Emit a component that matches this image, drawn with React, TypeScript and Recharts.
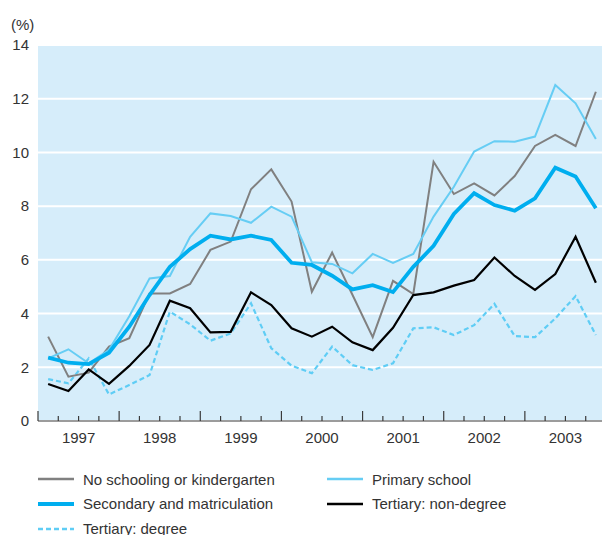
import { LineChart, Line, XAxis, YAxis, CartesianGrid } from "recharts";

const years = [1997, 1998, 1999, 2000, 2001, 2002, 2003];
const quarters = ["Q1", "Q2", "Q3", "Q4"];

// unemployment rate by education (%), quarterly 1997 Q1 - 2003 Q4
const noSchooling = [3.14, 1.65, 1.8, 2.77, 3.08, 4.75, 4.75, 5.1, 6.37, 6.68, 8.63, 9.37, 8.17, 4.81, 6.27, 4.7, 3.12, 5.22, 4.73, 9.65, 8.45, 8.85, 8.4, 9.12, 10.24, 10.65, 10.24, 12.26];
const primary = [2.33, 2.67, 2.15, 2.65, 3.9, 5.31, 5.4, 6.86, 7.73, 7.63, 7.38, 7.98, 7.61, 5.91, 5.85, 5.5, 6.22, 5.89, 6.22, 7.61, 8.72, 10.03, 10.42, 10.4, 10.59, 12.51, 11.83, 10.5];
const secondary = [2.36, 2.17, 2.12, 2.54, 3.51, 4.69, 5.74, 6.4, 6.9, 6.76, 6.9, 6.74, 5.89, 5.81, 5.41, 4.9, 5.06, 4.8, 5.74, 6.52, 7.71, 8.48, 8.04, 7.83, 8.29, 9.43, 9.1, 7.92];
const nonDegree = [1.38, 1.12, 1.92, 1.38, 2.05, 2.83, 4.48, 4.2, 3.3, 3.32, 4.79, 4.32, 3.45, 3.14, 3.51, 2.93, 2.64, 3.47, 4.69, 4.79, 5.04, 5.25, 6.09, 5.4, 4.88, 5.47, 6.86, 5.15];
const degree = [1.56, 1.4, 2.33, 0.99, 1.34, 1.71, 4.07, 3.6, 2.99, 3.26, 4.38, 2.71, 2.06, 1.78, 2.77, 2.08, 1.9, 2.15, 3.45, 3.49, 3.2, 3.57, 4.36, 3.16, 3.12, 3.82, 4.65, 3.2];

const yTicks = [0, 2, 4, 6, 8, 10, 12, 14];

// each quarter sits in the middle of its slot on a year scale
const periods = years.flatMap((y) =>
  quarters.map((q, i) => ({ label: `${y} ${q}`, t: y + (i + 0.5) / 4 }))
);
const xTicks = [
  ...years.flatMap((y) => quarters.map((_, i) => y + i / 4)),
  years[years.length - 1] + 1,
];

const data = periods.map((p, i) => ({
  ...p,
  noSchooling: noSchooling[i],
  primary: primary[i],
  secondary: secondary[i],
  nonDegree: nonDegree[i],
  degree: degree[i],
}));

const series = [
  { key: "degree", name: "Tertiary: degree", color: "#5fcdf5", width: 2.2, dash: "5 3" },
  { key: "noSchooling", name: "No schooling or kindergarten", color: "#808080", width: 2 },
  { key: "primary", name: "Primary school", color: "#66cdf4", width: 2 },
  { key: "secondary", name: "Secondary and matriculation", color: "#00aeef", width: 3.8 },
  { key: "nonDegree", name: "Tertiary: non-degree", color: "#000000", width: 2.2 },
];

const legendOrder = ["noSchooling", "primary", "secondary", "nonDegree", "degree"];

const textColor = "#333333";

function QuarterTick({ x, y, payload }: any) {
  const v = payload.value;
  const frac = v - Math.floor(v);
  const isYear = Math.abs(frac) < 1e-6;
  const isMid = Math.abs(frac - 0.5) < 1e-6;
  return (
    <g>
      <line x1={x} x2={x} y1={y} y2={y - (isYear ? 10 : 5)} stroke="#3a3a3a" strokeWidth={1.2} />
      {isMid && (
        <text x={x} y={y + 22} textAnchor="middle" fontSize={15} fill={textColor}>
          {Math.floor(v)}
        </text>
      )}
    </g>
  );
}

function LegendItem({ s, left, top }: any) {
  return (
    <div
      style={{
        position: "absolute",
        left,
        top: top - 10,
        height: 20,
        display: "flex",
        alignItems: "center",
        whiteSpace: "nowrap",
      }}
    >
      <svg width={36} height={8} style={{ marginRight: 9 }}>
        <line
          x1={0}
          x2={36}
          y1={4}
          y2={4}
          stroke={s.color}
          strokeWidth={s.key === "secondary" ? 3.8 : 2.4}
          strokeDasharray={s.dash}
        />
      </svg>
      <span>{s.name}</span>
    </div>
  );
}

export default function App() {
  const cols = [38, 327];
  const rows = [479, 503.5, 528.5];
  return (
    <div
      style={{
        position: "fixed",
        left: 0,
        top: 0,
        width: 602,
        height: 535,
        overflow: "hidden",
        fontFamily: "'Liberation Sans', Arial, sans-serif",
        fontSize: 15,
        color: textColor,
        background: "#fff",
      }}
    >
      <div style={{ position: "absolute", left: 11, top: 16, lineHeight: "18px" }}>(%)</div>
      <LineChart
        width={620}
        height={460}
        data={data}
        margin={{ top: 45, right: 14, left: 0, bottom: 0 }}
      >
        <CartesianGrid vertical={false} fill="#d6edfa" fillOpacity={1} stroke="#ffffff" strokeWidth={2} />
        <XAxis
          dataKey="t"
          type="number"
          domain={[1997, 2004]}
          ticks={xTicks}
          interval={0}
          height={39}
          tickSize={0}
          tickMargin={0}
          tickLine={false}
          tick={<QuarterTick />}
          axisLine={{ stroke: "#3a3a3a", strokeWidth: 1.2 }}
        />
        <YAxis
          domain={[0, 14]}
          ticks={yTicks}
          width={38}
          axisLine={false}
          tickLine={false}
          tickSize={0}
          tickMargin={9}
          tick={{ fill: textColor, fontSize: 15 }}
        />
        {series.map((s) => (
          <Line
            key={s.key}
            dataKey={s.key}
            name={s.name}
            type="linear"
            stroke={s.color}
            strokeWidth={s.width}
            strokeDasharray={s.dash}
            dot={false}
            activeDot={false}
            isAnimationActive={false}
          />
        ))}
      </LineChart>
      {legendOrder.map((k, i) => {
        const s = series.find((d) => d.key === k);
        return <LegendItem key={k} s={s} left={cols[i % 2]} top={rows[Math.floor(i / 2)]} />;
      })}
    </div>
  );
}
